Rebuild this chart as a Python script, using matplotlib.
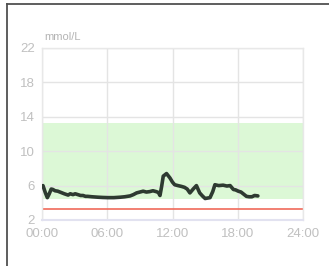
import matplotlib
matplotlib.use("Agg")
import matplotlib.pyplot as plt
from matplotlib.lines import Line2D

plt.rcParams['font.family'] = ['Liberation Sans', 'DejaVu Sans']

hours = [0.09, 0.3, 0.49, 0.65, 0.85, 1.0, 1.2, 1.45, 1.75, 2.05, 2.4, 2.6, 2.85, 3.05,
         3.3, 3.55, 3.77, 4.0, 4.2, 4.6, 5.15, 5.6, 6.07, 6.6, 7.2, 7.6, 8.1, 8.4,
         8.7, 9.0, 9.3, 9.6, 9.9, 10.2, 10.5, 10.7, 10.85, 11.0, 11.15, 11.45, 11.76,
         12.0, 12.2, 12.5, 12.84, 13.1, 13.35, 13.6, 13.9, 14.2, 14.5, 14.75, 15.0,
         15.45, 15.7, 15.9, 16.25, 16.65, 17.0, 17.3, 17.6, 17.8, 18.05, 18.3, 18.5,
         18.8, 19.05, 19.3, 19.55, 19.85]
glucose = [6.0, 5.2, 4.6, 5.0, 5.6, 5.55, 5.4, 5.35, 5.2, 5.05, 4.9, 5.05, 4.95, 5.05,
           4.95, 4.85, 4.85, 4.75, 4.75, 4.7, 4.65, 4.62, 4.6, 4.6, 4.65, 4.7, 4.8, 4.95,
           5.15, 5.25, 5.35, 5.25, 5.3, 5.4, 5.3, 5.2, 4.85, 5.9, 7.1, 7.4, 6.9,
           6.4, 6.1, 6.0, 5.9, 5.8, 5.6, 5.15, 5.6, 6.0, 5.15, 4.8, 4.5,
           4.6, 5.3, 6.1, 6.0, 6.05, 5.95, 6.0, 5.55, 5.5, 5.35, 5.25, 5.05,
           4.75, 4.7, 4.7, 4.85, 4.8]
target_low, target_high = 4.5, 13.3
low_alert = 3.3
y_ticks = [2, 6, 10, 14, 18, 22]
x_ticks = [0, 6, 12, 18, 24]
x_labels = ["00:00", "06:00", "12:00", "18:00", "24:00"]
unit = "mmol/L"

fig = plt.figure(figsize=(3.29, 2.66), dpi=100)
ax = fig.add_axes([42/329, 1-220/266, (303-42)/329, (220-48)/266])

ax.axhspan(target_low, target_high, color='#dcf8d6', zorder=0, lw=0)
ax.set_xlim(0, 24)
ax.set_ylim(2, 22)
ax.set_xticks(x_ticks)
ax.set_xticklabels(x_labels)
ax.set_yticks(y_ticks)
ax.grid(True, color='#e4e4e4', lw=1)
ax.set_axisbelow(True)
for s in ax.spines.values():
    s.set_color('#e8e8e8')
    s.set_linewidth(1)
ax.spines['bottom'].set_color('#e2e2f0')
ax.spines['bottom'].set_linewidth(1.5)
ax.tick_params(length=0, colors='#c0c0c0', labelsize=9.5, pad=6)
ax.tick_params(axis='y', pad=5)

ax.axhline(low_alert, color='#f06a5a', lw=1.2, zorder=2)
ax.plot(hours, glucose, color='#2e3a31', lw=2.6, solid_joinstyle='round',
        solid_capstyle='round', zorder=3)

fig.text(44/329, 1-40/266, unit, color='#b4b4b4', fontsize=8, ha='left', va='baseline')

fig.add_artist(Line2D([7/329, 1], [1-4/266, 1-4/266], color='#505050', lw=1.3))
fig.add_artist(Line2D([7/329, 7/329], [0, 1-4/266], color='#505050', lw=1.3))

fig.savefig('out.png', dpi=100)
